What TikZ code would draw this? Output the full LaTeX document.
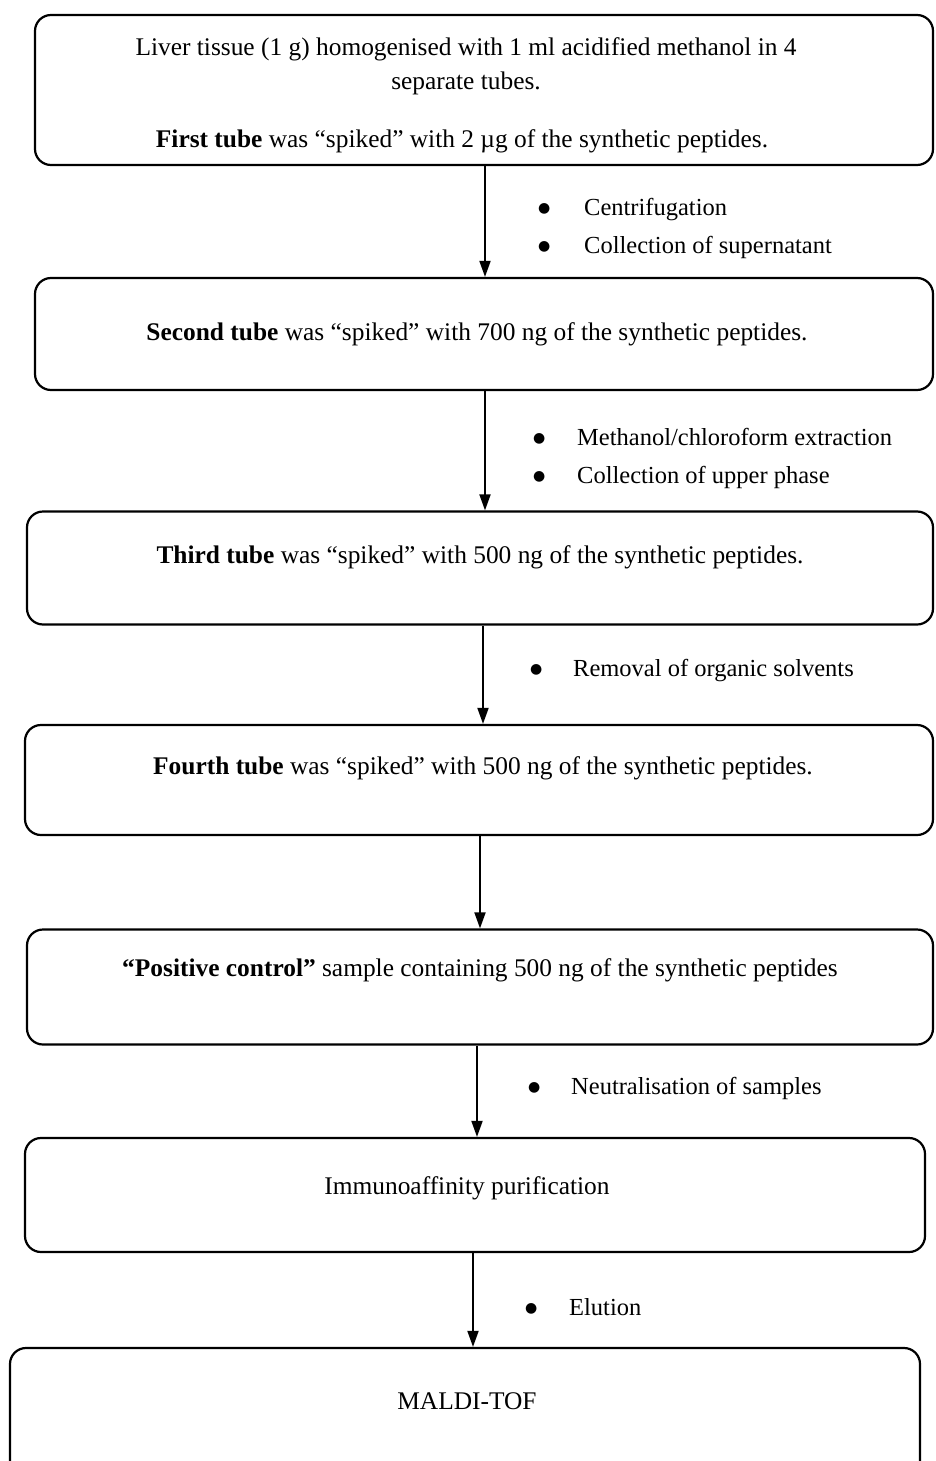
\documentclass[tikz,border=0pt]{standalone}
\usepackage{fontspec}
\setmainfont{Liberation Serif}
\newfontfamily\symf{DejaVu Sans}
\newcommand{\bul}[1]{\makebox[#1][l]{\raisebox{3pt}{\symf\fontsize{14}{14}\selectfont ●}}}
\usetikzlibrary{arrows.meta}
\begin{document}
\begin{tikzpicture}[x=1pt,y=-1pt,
  stepbox/.style={draw,line width=2.2pt,rounded corners=16pt,inner sep=0pt},
  flow/.style={line width=1.8pt,-{Triangle[length=16pt,width=11pt]}},
  txt/.style={font=\fontsize{25.4}{25.4}\selectfont,inner sep=0pt},
  bl/.style={font=\fontsize{24.5}{38}\selectfont,inner sep=0pt,anchor=west,align=left}]
\useasboundingbox (0,0) rectangle (935,1461);
% boxes
\node[stepbox,minimum width=898pt,minimum height=150pt] (b1) at (484,90) {};
\node[stepbox,minimum width=898pt,minimum height=112pt] (b2) at (484,334) {};
\node[stepbox,minimum width=906pt,minimum height=113pt] (b3) at (480,568) {};
\node[stepbox,minimum width=908pt,minimum height=110pt] (b4) at (479,780) {};
\node[stepbox,minimum width=906pt,minimum height=115pt] (b5) at (480,987) {};
\node[stepbox,minimum width=900pt,minimum height=114pt] (b6) at (475,1195) {};
\node[stepbox,minimum width=910pt,minimum height=130pt] (b7) at (465,1413) {};
% texts
\node[txt] (t1a) at (466,49) {Liver tissue (1 g) homogenised with 1 ml acidified methanol in 4};
\node[txt] (t1b) at (466,83) {separate tubes.};
\node[txt] (t1c) at (462,141) {\textbf{First tube} was “spiked” with 2 µg of the synthetic peptides.};
\node[txt] (t2) at (477,334) {\textbf{Second tube} was “spiked” with 700 ng of the synthetic peptides.};
\node[txt] (t3) at (480,557) {\textbf{Third tube} was “spiked” with 500 ng of the synthetic peptides.};
\node[txt] (t4) at (483,768) {\textbf{Fourth tube} was “spiked” with 500 ng of the synthetic peptides.};
\node[txt] (t5) at (480,970) {\textbf{“Positive control”} sample containing 500 ng of the synthetic peptides};
\node[txt] (t6) at (467,1188) {Immunoaffinity purification};
\node[txt] (t7) at (467,1401) {MALDI-TOF};
% arrows
\draw[flow] (b1.south -| 485,0) -- (b2.north -| 485,0);
\draw[flow] (b2.south -| 485,0) -- (b3.north -| 485,0);
\draw[flow] (b3.south -| 483,0) -- (b4.north -| 483,0);
\draw[flow] (b4.south -| 480,0) -- (b5.north -| 480,0);
\draw[flow] (b5.south -| 477,0) -- (b6.north -| 477,0);
\draw[flow] (b6.south -| 473,0) -- (b7.north -| 473,0);
% step labels
\node[bl] (l1) at (538,228) {\bul{46pt}Centrifugation\\\bul{46pt}Collection of supernatant};
\node[bl] (l2) at (533,458) {\bul{44pt}Methanol/chloroform extraction\\\bul{44pt}Collection of upper phase};
\node[bl] (l3) at (530,671) {\bul{43pt}Removal of organic solvents};
\node[bl] (l4) at (528,1088) {\bul{43pt}Neutralisation of samples};
\node[bl] (l5) at (525,1307) {\bul{44pt}Elution};
\end{tikzpicture}
\end{document}
